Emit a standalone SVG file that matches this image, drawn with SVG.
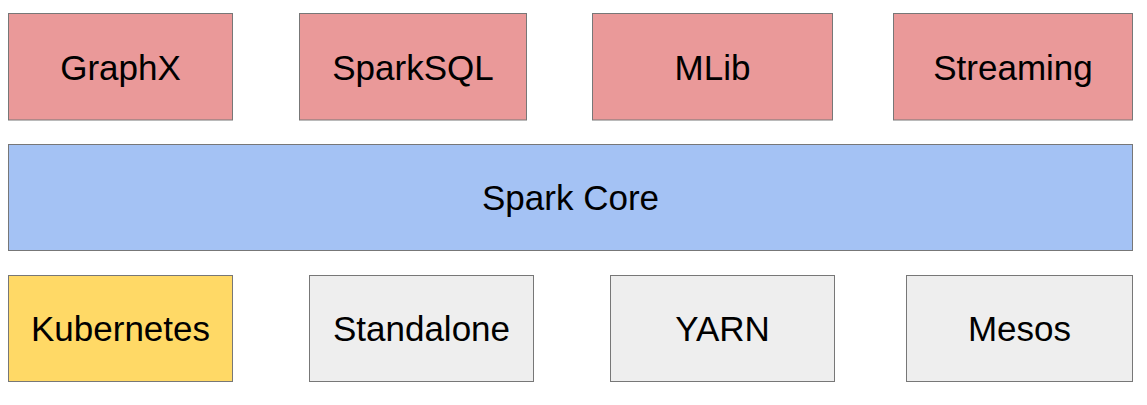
<svg xmlns="http://www.w3.org/2000/svg" width="1147" height="405" viewBox="0 0 1147 405">
<style>
rect{stroke:#777;stroke-width:1}
.r{fill:#ea9999}.b{fill:#a4c2f4}.y{fill:#ffd966}.g{fill:#eeeeee}
text{font-family:"Liberation Sans",Arial,sans-serif;font-size:35px;fill:#000;text-anchor:middle}
</style>
<rect width="1147" height="405" fill="#fff" style="stroke:none"/>
<g id="graphx"><rect class="r" x="8.5" y="13.5" width="224" height="106.5"/><text x="120.5" y="80">GraphX</text></g>
<g id="sparksql"><rect class="r" x="299.5" y="13.5" width="227" height="106.5"/><text x="413" y="80">SparkSQL</text></g>
<g id="mlib"><rect class="r" x="592.5" y="13.5" width="240" height="106.5"/><text x="712.5" y="80">MLib</text></g>
<g id="streaming"><rect class="r" x="893.5" y="13.5" width="239" height="106.5"/><text x="1013" y="80">Streaming</text></g>
<g id="sparkcore"><rect class="b" x="8.5" y="144.5" width="1124" height="106"/><text x="570.5" y="210">Spark Core</text></g>
<g id="kubernetes"><rect class="y" x="8.5" y="275.5" width="224" height="106"/><text x="120.5" y="341">Kubernetes</text></g>
<g id="standalone"><rect class="g" x="309.5" y="275.5" width="224" height="106"/><text x="421.5" y="341">Standalone</text></g>
<g id="yarn"><rect class="g" x="610.5" y="275.5" width="224" height="106"/><text x="722.5" y="341">YARN</text></g>
<g id="mesos"><rect class="g" x="906.5" y="275.5" width="226" height="106"/><text x="1019.5" y="341">Mesos</text></g>
<g id="connectors"/>
</svg>
